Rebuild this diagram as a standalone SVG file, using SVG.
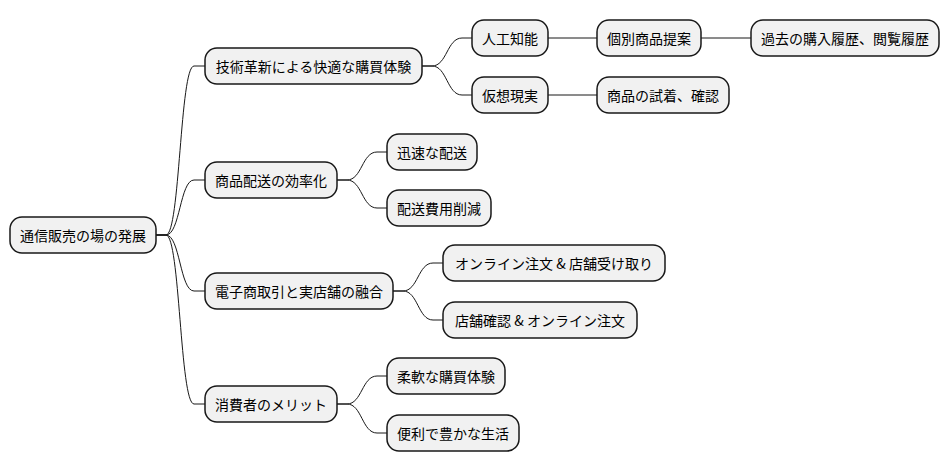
<svg xmlns="http://www.w3.org/2000/svg" width="950" height="471" viewBox="0 0 950 471">
<style>
.n rect{fill:#F1F1F1;stroke:#181818;stroke-width:1.5}
.n text{font-family:"Noto Sans CJK JP","Noto Sans",sans-serif;font-size:14px;fill:#000;text-anchor:middle;dominant-baseline:central}
.c path{fill:none;stroke:#181818;stroke-width:1}
</style>
<rect width="950" height="471" fill="#fff"/>
<g class="c">
<path d="M156,235 L166,235 C180,235 180,66 194,66 L205,66"/>
<path d="M156,235 L166,235 C180,235 180,180 194,180 L205,180"/>
<path d="M156,235 L166,235 C180,235 180,291 194,291 L205,291"/>
<path d="M156,235 L166,235 C180,235 180,404 194,404 L205,404"/>
<path d="M422,66 L432,66 C447,66 447,38 462,38 L472,38"/>
<path d="M422,66 L432,66 C447,66 447,95 462,95 L472,95"/>
<path d="M548,38 L597,38"/>
<path d="M548,95 L597,95"/>
<path d="M701,38 L751,38"/>
<path d="M337,180 L347,180 C362,180 362,152 377,152 L387,152"/>
<path d="M337,180 L347,180 C362,180 362,208 377,208 L387,208"/>
<path d="M393,291 L403,291 C418,291 418,263 433,263 L443,263"/>
<path d="M393,291 L403,291 C418,291 418,320 433,320 L443,320"/>
<path d="M337,404 L347,404 C362,404 362,376 377,376 L387,376"/>
<path d="M337,404 L347,404 C362,404 362,433 377,433 L387,433"/>
</g>
<g id="root" class="n"><rect x="10" y="217" width="146" height="36" rx="12"/><text x="83" y="235">通信販売の場の発展</text></g>
<g id="n1" class="n"><rect x="205" y="48" width="217" height="36" rx="12"/><text x="313.5" y="66">技術革新による快適な購買体験</text></g>
<g id="n2" class="n"><rect x="205" y="162" width="132" height="36" rx="12"/><text x="271" y="180">商品配送の効率化</text></g>
<g id="n3" class="n"><rect x="205" y="273" width="188" height="36" rx="12"/><text x="299" y="291">電子商取引と実店舗の融合</text></g>
<g id="n4" class="n"><rect x="205" y="386" width="132" height="36" rx="12"/><text x="271" y="404">消費者のメリット</text></g>
<g id="n11" class="n"><rect x="472" y="20" width="76" height="36" rx="12"/><text x="510" y="38">人工知能</text></g>
<g id="n12" class="n"><rect x="472" y="77" width="76" height="36" rx="12"/><text x="510" y="95">仮想現実</text></g>
<g id="n111" class="n"><rect x="597" y="20" width="104" height="36" rx="12"/><text x="649" y="38">個別商品提案</text></g>
<g id="n1111" class="n"><rect x="751" y="20" width="188" height="36" rx="12"/><text x="845" y="38">過去の購入履歴、閲覧履歴</text></g>
<g id="n121" class="n"><rect x="597" y="77" width="132" height="36" rx="12"/><text x="663" y="95">商品の試着、確認</text></g>
<g id="n21" class="n"><rect x="387" y="134" width="90" height="36" rx="12"/><text x="432" y="152">迅速な配送</text></g>
<g id="n22" class="n"><rect x="387" y="190" width="104" height="36" rx="12"/><text x="439" y="208">配送費用削減</text></g>
<g id="n31" class="n"><rect x="443" y="245" width="222" height="36" rx="12"/><text x="554" y="263">オンライン注文 &amp; 店舗受け取り</text></g>
<g id="n32" class="n"><rect x="443" y="302" width="194" height="36" rx="12"/><text x="540" y="320">店舗確認 &amp; オンライン注文</text></g>
<g id="n41" class="n"><rect x="387" y="358" width="118" height="36" rx="12"/><text x="446" y="376">柔軟な購買体験</text></g>
<g id="n42" class="n"><rect x="387" y="415" width="132" height="36" rx="12"/><text x="453" y="433">便利で豊かな生活</text></g>
</svg>
